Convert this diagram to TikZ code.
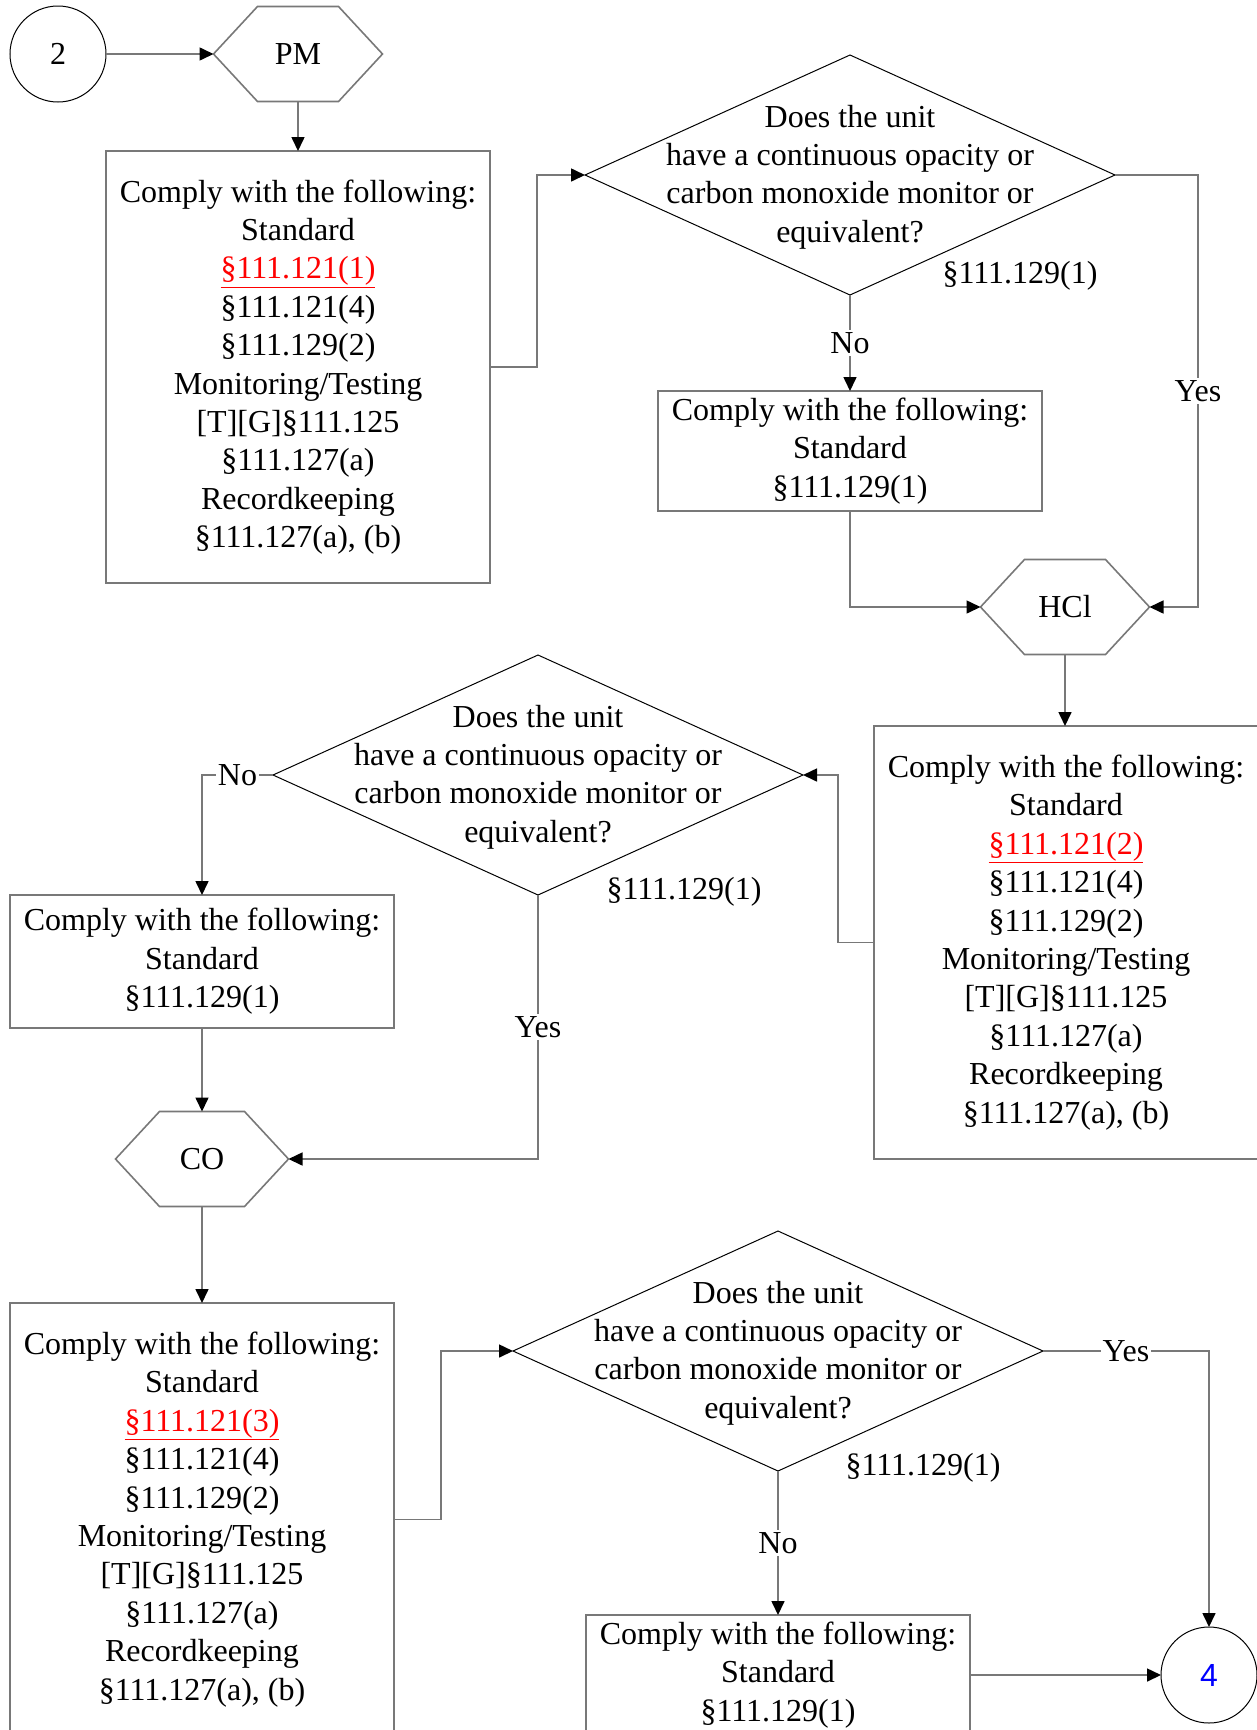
\documentclass[tikz,border=0pt]{standalone}
\usepackage{fontspec}
\setmainfont{Liberation Serif}
\newfontfamily\sansf{Liberation Sans}
\usetikzlibrary{arrows.meta,shapes.geometric}
\definecolor{lgray}{RGB}{120,120,120}
\definecolor{pblue}{RGB}{0,0,255}
\newcommand\hexout[1]{\draw[hexl] (#1.west) -- ([xshift=44pt]#1.north west) -- ([xshift=-44pt]#1.north east) -- (#1.east) -- ([xshift=-44pt]#1.south east) -- ([xshift=44pt]#1.south west) -- cycle;}
\begin{document}
\begin{tikzpicture}[x=1pt,y=-1pt,
  txt/.style={font=\fontsize{32}{38.4}\selectfont, align=center, inner sep=0pt, outer sep=0pt},
  box/.style={txt, draw=lgray, line width=1.6pt, minimum width=384pt},
  dia/.style={diamond, draw=black, line width=1pt, minimum width=530pt, minimum height=240pt, inner sep=0pt, outer sep=0pt},
  circ/.style={txt, circle, draw=black, line width=1pt, minimum size=96pt},
  hexn/.style={txt, minimum width=169pt, minimum height=95pt},
  hexl/.style={draw=lgray, line width=1.6pt, line join=miter},
  conn/.style={draw=lgray, line width=1.6pt, -{Triangle[length=14pt,width=13pt,color=black]}},
  lbl/.style={txt, fill=white, inner sep=2pt},
  ref/.style={txt}
]
\useasboundingbox (0,0) rectangle (1256,1730);

% nodes
\node[circ] (c2) at (58,54) {2};
\node[hexn] (pm) at (298,54) {PM};
\hexout{pm}

\node[box, minimum height=432pt] (b1) at (298,367) {Comply with the following:\\Standard\\\textcolor{red}{\underline{§111.121(1)}}\\§111.121(4)\\§111.129(2)\\Monitoring/Testing\\{[T][G]§111.125}\\§111.127(a)\\Recordkeeping\\§111.127(a), (b)};

\node[dia] (d1) at (850,175) {};
\node[txt] (t1) at ([yshift=-2pt]d1.center) {Does the unit\\have a continuous opacity or\\carbon monoxide monitor or\\equivalent?};
\node[ref] (r1) at (1020,276) {§111.129(1)};

\node[box, minimum height=120pt] (b2) at (850,451) {Comply with the following:\\Standard\\§111.129(1)};

\node[hexn] (hcl) at (1065,607) {HCl};
\hexout{hcl}

\node[box, minimum height=433pt] (b3) at (1066,942.5) {Comply with the following:\\Standard\\\textcolor{red}{\underline{§111.121(2)}}\\§111.121(4)\\§111.129(2)\\Monitoring/Testing\\{[T][G]§111.125}\\§111.127(a)\\Recordkeeping\\§111.127(a), (b)};

\node[dia] (d2) at (538,775) {};
\node[txt] (t2) at ([yshift=-2pt]d2.center) {Does the unit\\have a continuous opacity or\\carbon monoxide monitor or\\equivalent?};
\node[ref] (r2) at (684,892) {§111.129(1)};

\node[box, minimum height=133pt] (b4) at (202,961.5) {Comply with the following:\\Standard\\§111.129(1)};

\node[hexn, minimum width=173pt] (co) at (202,1159) {CO};
\hexout{co}

\node[box, minimum height=433pt] (b5) at (202,1519.5) {Comply with the following:\\Standard\\\textcolor{red}{\underline{§111.121(3)}}\\§111.121(4)\\§111.129(2)\\Monitoring/Testing\\{[T][G]§111.125}\\§111.127(a)\\Recordkeeping\\§111.127(a), (b)};

\node[dia] (d3) at (778,1351) {};
\node[txt] (t3) at ([yshift=-2pt]d3.center) {Does the unit\\have a continuous opacity or\\carbon monoxide monitor or\\equivalent?};
\node[ref] (r3) at (923,1468) {§111.129(1)};

\node[box, minimum height=120pt] (b6) at (778,1675) {Comply with the following:\\Standard\\§111.129(1)};

\node[circ, text=pblue, font=\sansf\fontsize{32}{38.4}\selectfont] (c4) at (1209,1675) {4};

% connectors
\draw[conn] (c2.east) -- (pm.west);
\draw[conn] (pm.south) -- (b1.north);
\draw[conn] (b1.east) -- ++(47,0) |- (d1.west);
\draw[conn] (d1.south) -- node[lbl]{No} (b2.north);
\draw[conn] (d1.east) -- ++(83,0) |- node[lbl,pos=0.25]{Yes} (hcl.east);
\draw[conn] (b2.south) |- (hcl.west);
\draw[conn] (hcl.south) -- (hcl.south |- b3.north);
\draw[conn] (b3.west) -- ++(-36,0) |- (d2.east);
\draw[conn] (d2.west) -| node[lbl,pos=0.25]{No} (b4.north);
\draw[conn] (d2.south) |- node[lbl,pos=0.25]{Yes} (co.east);
\draw[conn] (b4.south) -- (co.north);
\draw[conn] (co.south) -- (b5.north);
\draw[conn] (b5.east) -- ++(47,0) |- (d3.west);
\draw[conn] (d3.south) -- node[lbl]{No} (b6.north);
\draw[conn] (d3.east) -| node[lbl,pos=0.25]{Yes} (c4.north);
\draw[conn] (b6.east) -- (c4.west);
\end{tikzpicture}
\end{document}
